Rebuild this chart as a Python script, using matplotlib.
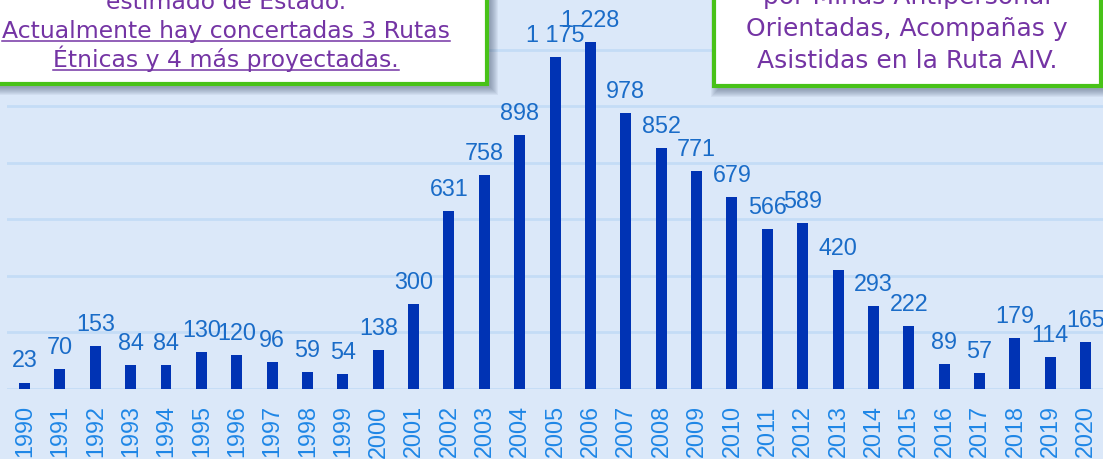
import matplotlib
matplotlib.use("Agg")
import matplotlib.pyplot as plt
from matplotlib.patches import Rectangle
from matplotlib.lines import Line2D

# ---- data ----
years = [str(y) for y in range(1990, 2021)]
values = [23, 70, 153, 84, 84, 130, 120, 96, 59, 54, 138, 300, 631, 758, 898,
          1175, 1228, 978, 852, 771, 679, 566, 589, 420, 293, 222, 89, 57, 179, 114, 165]
left_box_lines = ["estimado de Estado.",
                  "Actualmente hay concertadas 3 Rutas",
                  "Étnicas y 4 más proyectadas."]
right_box_lines = ["por Minas Antipersonal",
                   "Orientadas, Acompañas y",
                   "Asistidas en la Ruta AIV."]

W, H = 1103, 460
BG = "#dbe8f9"
BAR = "#0033b4"
LBL = "#1a6cc8"
TICK = "#1e86e6"
GRID = "#c4dcf6"
PURPLE = "#7434a4"
GREEN = "#48c218"

fig = plt.figure(figsize=(W / 100, H / 100), dpi=100)
fig.patch.set_facecolor(BG)

def fx(px):
    return px / W

def fy(py):
    return 1 - py / H

ax = fig.add_axes([fx(7), fy(390), 1 - fx(7), 390 / H])
ax.set_facecolor(BG)
x = list(range(len(years)))
ax.bar(x, values, width=0.31, color=BAR, zorder=3)
ax.set_xlim(-0.495, 30.49)
ax.set_ylim(0, 1380)
ax.set_yticks(range(0, 1400, 200))
ax.yaxis.grid(True, color=GRID, linewidth=2, zorder=0)
ax.set_axisbelow(True)
ax.tick_params(axis="y", left=False, labelleft=False)
ax.set_xticks(x)
ax.set_xticklabels(years, rotation=90, color=TICK, fontsize=16.8,
                   family="Liberation Sans")
ax.tick_params(axis="x", length=0, pad=11)
for s in ax.spines.values():
    s.set_visible(False)

for xi, v in zip(x, values):
    ax.annotate(f"{v:,}".replace(",", " "), (xi, v), xytext=(0, 11),
                textcoords="offset pixels", ha="center", va="bottom",
                color=LBL, fontsize=16.8, family="Liberation Sans",
                zorder=4, annotation_clip=False)

# ---- text boxes ----
def box(x0, y0, x1, y1):
    for k in range(8):
        fig.add_artist(Rectangle((fx(x0 + 4 - k), fy(y1 + 4 + k)),
                                 (x1 - x0 + 2 * k) / W, (y1 - y0 + 2 * k) / H,
                                 transform=fig.transFigure, facecolor="#2c3a58",
                                 edgecolor="none", alpha=0.06, zorder=5))
    fig.add_artist(Rectangle((fx(x0), fy(y1)), (x1 - x0) / W, (y1 - y0) / H,
                             transform=fig.transFigure, facecolor="white",
                             edgecolor=GREEN, linewidth=3.0, zorder=6))

box(-30, -30, 487, 85)
box(714, -30, 1101, 87)

BOXFONT = "DejaVu Sans"
renderer = fig.canvas.get_renderer()

def fit(txt, target):
    probe = fig.text(0, 0, txt, fontsize=10, family=BOXFONT)
    w10 = probe.get_window_extent(renderer).width
    probe.remove()
    return 10 * target / w10

LSIZE = fit(left_box_lines[1], 447)
RSIZE = fit(right_box_lines[1], 322)

def line(txt, cx, base, size, underline=False):
    t = fig.text(fx(cx), fy(base), txt, ha="center", va="baseline",
                 color=PURPLE, fontsize=size, family=BOXFONT, zorder=7)
    if underline:
        bb = t.get_window_extent(renderer)
        fig.add_artist(Line2D([bb.x0 / W, bb.x1 / W], [fy(base + 3.5)] * 2,
                              transform=fig.transFigure, color=PURPLE,
                              linewidth=1.1, zorder=7))

line(left_box_lines[0], 226, 9, LSIZE)
line(left_box_lines[1], 226, 38, LSIZE, underline=True)
line(left_box_lines[2], 226, 67, LSIZE, underline=True)
line(right_box_lines[0], 907, 4, RSIZE)
line(right_box_lines[1], 907, 36, RSIZE)
line(right_box_lines[2], 907, 68, RSIZE)

fig.savefig("out.png", dpi=100, facecolor=BG)
